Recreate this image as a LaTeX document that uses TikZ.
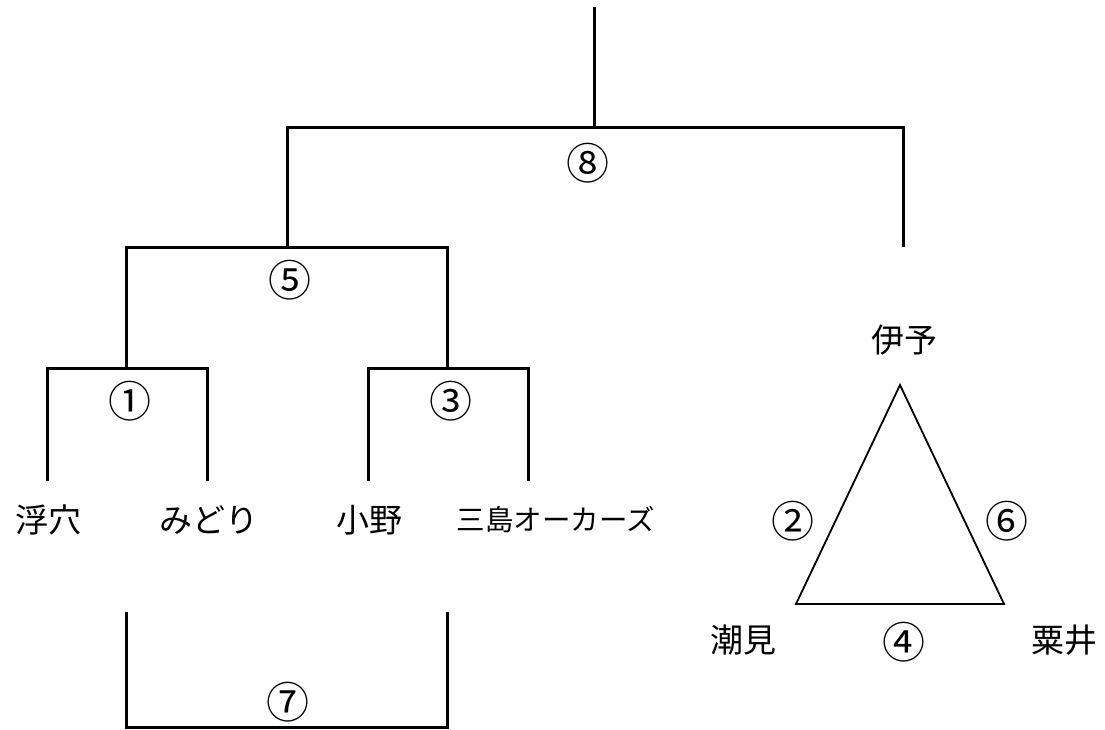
\documentclass[tikz,border=0pt]{standalone}
\usepackage{fontspec}
\newfontfamily\jp{Noto Sans CJK JP}
\begin{document}
\begin{tikzpicture}[x=1pt,y=-1pt,
  brline/.style={line width=3pt, line join=miter},
  triline/.style={line width=1.8pt, line join=miter},
  teamlbl/.style={font=\jp\fontsize{33}{33}\selectfont, inner sep=0pt},
  smalllbl/.style={font=\jp\fontsize{28.5}{28.5}\selectfont, inner sep=0pt},
  numlbl/.style={font=\jp\fontsize{43}{43}\selectfont, inner sep=0pt}]
\useasboundingbox (0,0) rectangle (1105,729);
% coordinates of the bracket
\coordinate (t0) at (594,7);
\coordinate (t8) at (594,127);
\coordinate (a8l) at (287,127);
\coordinate (a8r) at (903,127);
\coordinate (b8l) at (287,247);
\coordinate (b8r) at (903,247);
\coordinate (a5l) at (126,247);
\coordinate (a5r) at (447,247);
\coordinate (b5l) at (126,368);
\coordinate (b5r) at (447,368);
\coordinate (a1l) at (47,368);
\coordinate (a1r) at (207,368);
\coordinate (b1l) at (47,481);
\coordinate (b1r) at (207,481);
\coordinate (a3l) at (368,368);
\coordinate (a3r) at (528,368);
\coordinate (b3l) at (368,481);
\coordinate (b3r) at (528,481);
\coordinate (a7l) at (126,612);
\coordinate (a7r) at (447,612);
\coordinate (b7l) at (126,727);
\coordinate (b7r) at (447,727);
% bracket lines
\draw[brline] (t0) -- (t8);
\draw[brline] (b8l) -- (a8l) -- (a8r) -- (b8r);
\draw[brline] (b5l) -- (a5l) -- (a5r) -- (b5r);
\draw[brline] (b1l) -- (a1l) -- (a1r) -- (b1r);
\draw[brline] (b3l) -- (a3l) -- (a3r) -- (b3r);
\draw[brline] (a7l) -- (b7l) -- (b7r) -- (a7r);
% match numbers
\node[numlbl] (n8) at (588,163) {⑧};
\node[numlbl] (n5) at (290,280) {⑤};
\node[numlbl] (n1) at (130,401) {①};
\node[numlbl] (n3) at (451,401) {③};
\node[numlbl] (n7) at (288,702) {⑦};
% team names
\node[teamlbl] (ukena) at (48,520) {浮穴};
\node[teamlbl] (midori) at (209,520) {みどり};
\node[teamlbl] (ono) at (369,520) {小野};
\node[smalllbl] (mishima) at (556,520) {三島オーカーズ};
% league triangle
\node[teamlbl] (iyo) at (904,340) {伊予};
\node[teamlbl] (shiomi) at (743,640) {潮見};
\node[teamlbl] (awai) at (1064,640) {粟井};
\coordinate (tA) at (900,385);
\coordinate (tB) at (796,604);
\coordinate (tC) at (1004,604);
\draw[triline] (tA) -- (tB) -- (tC) -- cycle;
\node[numlbl] (n2) at (793,521) {②};
\node[numlbl] (n6) at (1007,521) {⑥};
\node[numlbl] (n4) at (904,642) {④};
\end{tikzpicture}
\end{document}
